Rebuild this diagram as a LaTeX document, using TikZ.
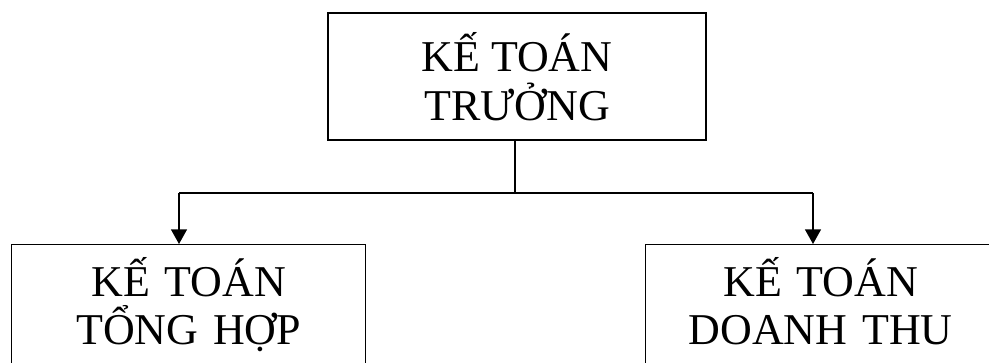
\documentclass[tikz,border=0pt]{standalone}
\usepackage{fontspec}
\setmainfont{Liberation Serif}
\usetikzlibrary{arrows.meta}

\begin{document}
\begin{tikzpicture}[x=0.75pt,y=-0.75pt,line width=1pt,
    >={Triangle[length=11pt,width=12pt]},
    box/.style={draw,align=center,font=\fontsize{33}{36.5}\selectfont,inner sep=0pt},
    leaf/.style={box,anchor=north west,minimum height=127*0.75pt}]
    \clip (0,0) rectangle (989,362);

    \node[box,minimum width=378*0.75pt,minimum height=127*0.75pt] (chief) at (517,76.5)
        {KẾ TOÁN\\TRƯỞNG};
    \node[leaf,minimum width=354*0.75pt,text width=354*0.75pt] (general) at (11,244)
        {KẾ TOÁN\\TỔNG HỢP\strut};
    \node[leaf,minimum width=350*0.75pt,text width=350*0.75pt] (revenue) at (645,244)
        {KẾ TOÁN\\DOANH THU\strut};

    \coordinate (split) at (515,193);
    \coordinate (lhook) at (179,193);
    \coordinate (rhook) at (813,193);
    \draw (split |- chief.south) -- (split);
    \draw (lhook) -- (rhook);
    \draw[->] (lhook) -- (lhook |- general.north);
    \draw[->] (rhook) -- (rhook |- revenue.north);
\end{tikzpicture}
\end{document}
